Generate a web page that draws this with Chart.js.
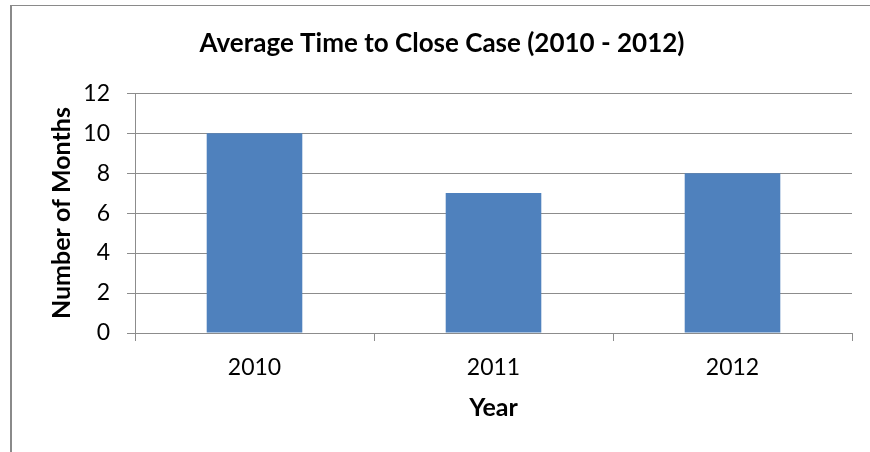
<!DOCTYPE html>
<html>
<head>
<meta charset="utf-8">
<script src="https://cdn.jsdelivr.net/npm/chart.js@4"></script>
<style>
  html, body { margin: 0; padding: 0; background: #ffffff; }
  #wrap { width: 870px; height: 452px; }
</style>
</head>
<body>
<div id="wrap"><canvas id="caseChart" width="870" height="452"></canvas></div>
<script>
// Average months to close a case, per year
const years = ["2010", "2011", "2012"];
const months = [10, 7, 8];
const yTicks = [0, 2, 4, 6, 8, 10, 12];

const gridGray = "#8c8c8c";
const fontFamily = "Lato, 'Open Sans', sans-serif";

// outer frame of the chart box (only the top and left edges are in view)
const framePlugin = {
    id: "frame",
    afterDraw(chart) {
        const ctx = chart.ctx;
        ctx.save();
        ctx.fillStyle = "#8a8a8a";
        ctx.fillRect(10, 5, 2, chart.height - 5);
        ctx.fillRect(10, 5, chart.width - 10, 1);
        ctx.restore();
    }
};

new Chart(document.getElementById("caseChart"), {
    type: "bar",
    data: {
        labels: years,
        datasets: [
            {
                label: "Months",
                data: months,
                backgroundColor: "#4f81bd",
                borderWidth: 0,
                categoryPercentage: 1,
                barPercentage: 0.4
            }
        ]
    },
    options: {
        responsive: false,
        animation: false,
        layout: {
            padding: { left: 16, right: 2, top: 0, bottom: 0 }
        },
        plugins: {
            legend: { display: false },
            tooltip: { enabled: false },
            title: {
                display: true,
                text: "Average Time to Close Case (2010 - 2012)",
                color: "#000000",
                font: { family: fontFamily, size: 26, weight: "bold" },
                padding: { top: 28, bottom: 34 }
            }
        },
        scales: {
            x: {
                offset: true,
                grid: {
                    offset: true,
                    drawOnChartArea: false,
                    drawTicks: true,
                    tickLength: 8,
                    color: gridGray
                },
                border: { color: gridGray, width: 1 },
                ticks: {
                    color: "#000000",
                    padding: 13,
                    font: { family: fontFamily, size: 23 }
                },
                title: {
                    display: true,
                    text: "Year",
                    color: "#000000",
                    font: { family: fontFamily, size: 25, weight: "bold" },
                    padding: { top: 0, bottom: 29 }
                },
                afterFit(scale) {
                    scale.height = 119;
                }
            },
            y: {
                min: 0,
                max: 12,
                grid: {
                    color: gridGray,
                    drawTicks: true,
                    tickLength: 8
                },
                border: { color: gridGray, width: 1 },
                afterBuildTicks(scale) {
                    scale.ticks = yTicks.map(v => ({ value: v }));
                },
                ticks: {
                    color: "#000000",
                    padding: 17,
                    font: { family: fontFamily, size: 23 }
                },
                title: {
                    display: true,
                    text: "Number of Months",
                    color: "#000000",
                    font: { family: fontFamily, size: 25, weight: "bold" },
                    padding: { top: 31, bottom: 0 }
                },
                afterFit(scale) {
                    scale.width = 119;
                }
            },
            // empty strip on the right so the plot ends short of the frame
            spacer: {
                type: "linear",
                position: "right",
                grid: { display: false },
                border: { display: false },
                ticks: { display: false },
                afterFit(scale) {
                    scale.width = 16;
                }
            }
        }
    },
    plugins: [framePlugin]
});
</script>
</body>
</html>
